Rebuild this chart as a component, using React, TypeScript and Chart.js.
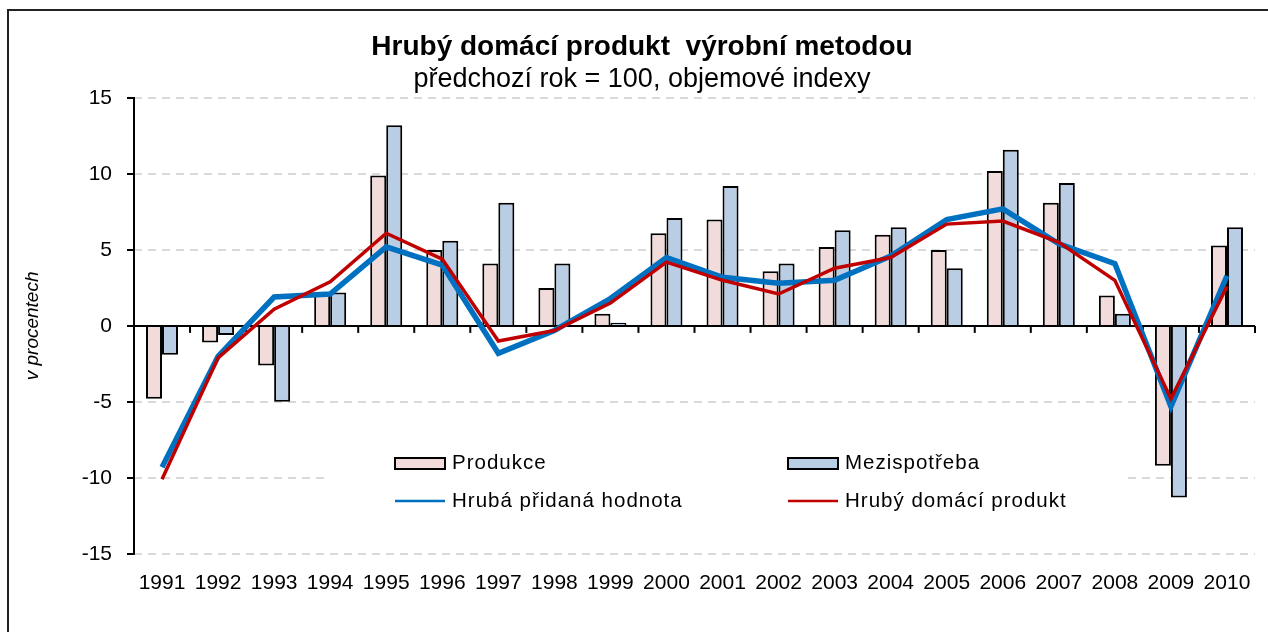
import React, { useEffect, useRef } from 'react';
import { Chart, registerables } from 'chart.js';

Chart.register(...registerables);

const years = ['1991', '1992', '1993', '1994', '1995', '1996', '1997', '1998', '1999', '2000', '2001', '2002', '2003', '2004', '2005', '2006', '2007', '2008', '2009', '2010'];
const produkce = [-4.8, -1.1, -2.6, 2.2, 9.9, 5.0, 4.1, 2.5, 0.8, 6.1, 7.0, 3.6, 5.2, 6.0, 5.0, 10.2, 8.1, 2.0, -9.2, 5.3];
const mezispotreba = [-1.9, -0.6, -5.0, 2.2, 13.2, 5.6, 8.1, 4.1, 0.2, 7.1, 9.2, 4.1, 6.3, 6.5, 3.8, 11.6, 9.4, 0.8, -11.3, 6.5];
const hrubaPridanaHodnota = [-9.3, -2.0, 1.9, 2.1, 5.2, 4.0, -1.8, -0.3, 1.8, 4.5, 3.2, 2.8, 3.0, 4.6, 7.0, 7.7, 5.4, 4.1, -5.3, 3.3];
const hrubyDomaciProdukt = [-10.1, -2.1, 1.1, 2.9, 6.1, 4.4, -1.0, -0.3, 1.5, 4.2, 3.0, 2.1, 3.8, 4.5, 6.7, 6.9, 5.5, 3.0, -4.8, 2.6];
const yTicks = [-15, -10, -5, 0, 5, 10, 15];

const titleText = 'Hrubý domácí produkt  výrobní metodou';
const subtitleText = 'předchozí rok = 100, objemové indexy';
const yTitle = 'v procentech';

const FONT = '"Liberation Sans", Arial, Helvetica, sans-serif';
const PINK = '#f2dcdb';
const BLUE_FILL = '#b9cde5';
const BLUE_LINE = '#0070c0';
const RED_LINE = '#c00000';

const framePlugin = {
  id: 'frameAxes',
  beforeDraw(chart: any) {
    const ctx = chart.ctx;
    ctx.save();
    ctx.fillStyle = '#fff';
    ctx.fillRect(0, 0, chart.width, chart.height);
    ctx.strokeStyle = '#222';
    ctx.lineWidth = 2;
    ctx.beginPath();
    ctx.moveTo(8, chart.height + 5);
    ctx.lineTo(8, 10);
    ctx.lineTo(chart.width + 5, 10);
    ctx.stroke();
    ctx.fillStyle = '#000';
    ctx.textAlign = 'center';
    ctx.textBaseline = 'middle';
    ctx.font = `bold 28px ${FONT}`;
    ctx.fillText(titleText, 642, 47);
    ctx.font = `27px ${FONT}`;
    ctx.fillText(subtitleText, 642, 80);
    ctx.restore();
  },
  beforeDatasetsDraw(chart: any) {
    const { ctx, chartArea, scales } = chart;
    const y0 = scales.y.getPixelForValue(0);
    ctx.save();
    ctx.strokeStyle = '#000';
    ctx.lineWidth = 2;
    ctx.setLineDash([]);
    ctx.beginPath();
    ctx.moveTo(chartArea.left, chartArea.top - 1);
    ctx.lineTo(chartArea.left, chartArea.bottom + 1);
    ctx.stroke();
    ctx.beginPath();
    ctx.moveTo(chartArea.left, y0);
    ctx.lineTo(chartArea.right, y0);
    ctx.stroke();
    const n = years.length;
    for (let k = 1; k <= n; k++) {
      let x;
      if (k < n) {
        x = (scales.x.getPixelForValue(k - 1) + scales.x.getPixelForValue(k)) / 2;
      } else {
        x = chartArea.right;
      }
      ctx.beginPath();
      ctx.moveTo(x, y0);
      ctx.lineTo(x, y0 + 7);
      ctx.stroke();
    }
    ctx.restore();
  },
  afterDraw(chart: any) {
    const ctx = chart.ctx;
    const ds = chart.data.datasets;
    ctx.save();
    ctx.fillStyle = '#fff';
    ctx.fillRect(330, 436, 797, 84);
    const items = [
      { kind: 'box', color: PINK, label: ds[2].label, x: 395, y: 463 },
      { kind: 'box', color: BLUE_FILL, label: ds[3].label, x: 788, y: 463 },
      { kind: 'line', color: BLUE_LINE, label: ds[1].label, x: 395, y: 501 },
      { kind: 'line', color: RED_LINE, label: ds[0].label, x: 788, y: 501 },
    ];
    for (const it of items) {
      if (it.kind === 'box') {
        ctx.fillStyle = it.color;
        ctx.fillRect(it.x, it.y - 5, 50, 11);
        ctx.strokeStyle = '#000';
        ctx.lineWidth = 2;
        ctx.strokeRect(it.x, it.y - 5, 50, 11);
      } else {
        ctx.strokeStyle = it.color;
        ctx.lineWidth = 2.5;
        ctx.beginPath();
        ctx.moveTo(it.x, it.y);
        ctx.lineTo(it.x + 50, it.y);
        ctx.stroke();
      }
      ctx.fillStyle = '#000';
      ctx.font = `20.5px ${FONT}`;
      try { (ctx as any).letterSpacing = '1px'; } catch (e) {}
      ctx.textAlign = 'left';
      ctx.textBaseline = 'middle';
      ctx.fillText(it.label, it.x + 57, it.y);
      try { (ctx as any).letterSpacing = '0px'; } catch (e) {}
    }
    ctx.restore();
  },
};

export default function App() {
  const canvasRef = useRef<HTMLCanvasElement | null>(null);

  useEffect(() => {
    if (!canvasRef.current) return;
    const chart = new Chart(canvasRef.current, {
      type: 'bar',
      data: {
        labels: years,
        datasets: [
          {
            type: 'line',
            label: 'Hrubý domácí produkt',
            data: hrubyDomaciProdukt,
            borderColor: RED_LINE,
            backgroundColor: RED_LINE,
            borderWidth: 3.5,
            pointRadius: 0,
            tension: 0,
            order: 1,
          } as any,
          {
            type: 'line',
            label: 'Hrubá přidaná hodnota',
            data: hrubaPridanaHodnota,
            borderColor: BLUE_LINE,
            backgroundColor: BLUE_LINE,
            borderWidth: 5.5,
            pointRadius: 0,
            tension: 0,
            order: 2,
          } as any,
          {
            type: 'bar',
            label: 'Produkce',
            data: produkce,
            backgroundColor: PINK,
            borderColor: '#000',
            borderWidth: 2,
            categoryPercentage: 0.571,
            barPercentage: 1,
            order: 3,
          },
          {
            type: 'bar',
            label: 'Mezispotřeba',
            data: mezispotreba,
            backgroundColor: BLUE_FILL,
            borderColor: '#000',
            borderWidth: 2,
            categoryPercentage: 0.571,
            barPercentage: 1,
            order: 4,
          },
        ],
      },
      options: {
        responsive: false,
        animation: false,
        layout: { padding: { top: 98, right: 13, bottom: 19, left: 0 } },
        plugins: {
          legend: { display: false },
          title: { display: false },
          tooltip: { enabled: false },
        },
        scales: {
          x: {
            grid: { display: false, drawTicks: false },
            border: { display: false },
            ticks: {
              color: '#000',
              font: { family: FONT, size: 21 },
              padding: 17,
              maxRotation: 0,
              autoSkip: false,
            },
          },
          y: {
            min: -15,
            max: 15,
            afterFit: (scale: any) => { scale.width = 134; },
            afterBuildTicks: (scale: any) => { scale.ticks = yTicks.map((v) => ({ value: v })); },
            grid: {
              color: (c: any) => (c.tick && c.tick.value === 0 ? 'rgba(0,0,0,0)' : '#d9d9d9'),
              lineWidth: 2,
              borderDash: [8, 6],
              drawTicks: true,
              tickLength: 7,
              tickColor: '#000',
              tickWidth: 2,
              tickBorderDash: [],
            } as any,
            border: { display: false, dash: [8, 6] } as any,
            ticks: {
              color: '#000',
              font: { family: FONT, size: 21 },
              padding: 15,
              callback: (v: any) => String(v),
            },
            title: {
              display: true,
              text: yTitle,
              color: '#000',
              font: { family: FONT, size: 19, style: 'italic' },
              padding: { top: 21.6, bottom: 0 },
            },
          },
        },
      },
      plugins: [framePlugin],
    } as any);
    return () => chart.destroy();
  }, []);

  return (
    <div style={{ position: 'absolute', left: 0, top: 0, width: 1268, height: 632 }}>
      <canvas ref={canvasRef} width={1268} height={632} style={{ display: 'block' }} />
    </div>
  );
}
